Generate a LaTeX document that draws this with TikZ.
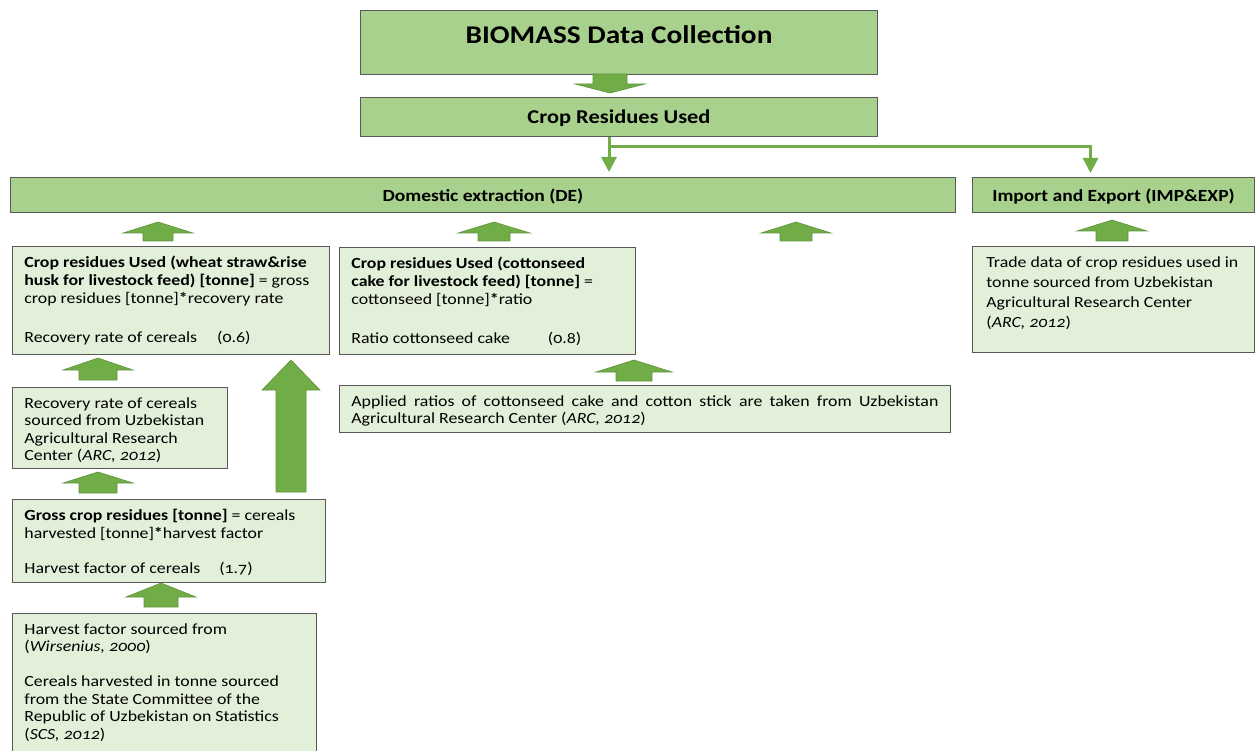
\documentclass[tikz,border=0pt]{standalone}
\usepackage{fontspec}
\setmainfont{Carlito}[FakeStretch=1.15,Numbers=OldStyle]
\usetikzlibrary{arrows.meta}

\definecolor{hdrfill}{HTML}{A9D18E}
\definecolor{boxfill}{HTML}{E2F0D9}
\definecolor{arrowgreen}{HTML}{70AD47}
\definecolor{boxline}{HTML}{595959}

% block arrow: centre x, tail y, head base y, tip y, half head, half shaft
\newcommand{\fatarrow}[6]{%
  \filldraw[fatarr] ({#1-#6},#2) -- ({#1-#6},#3) -- ({#1-#5},#3) -- (#1,#4)
    -- ({#1+#5},#3) -- ({#1+#6},#3) -- ({#1+#6},#2) -- cycle;}

\begin{document}
\begin{tikzpicture}[x=1pt,y=-1pt,
  hdr/.style={draw=boxline, line width=1pt, fill=hdrfill, anchor=north west, inner sep=0pt},
  infobox/.style={draw=boxline, line width=0.8pt, fill=boxfill, anchor=north west,
    inner xsep=12pt, inner ysep=10pt, font=\fontsize{15.5}{17.5}\selectfont},
  conn/.style={draw=arrowgreen, line width=3pt, -{Triangle[width=15pt,length=15pt]}},
  fatarr/.style={fill=arrowgreen, draw=arrowgreen!85!black, line width=0.6pt}]
  \useasboundingbox (0,0) rectangle (1255,751);

  % Header boxes
  \node[hdr, minimum width=517pt, text height=25pt, text depth=23pt, inner ysep=8pt,
    font=\fontsize{25.5}{30}\selectfont\bfseries] (title) at (360,10) {BIOMASS Data Collection};
  \node[hdr, minimum width=517pt, minimum height=39pt, text height=14pt, text depth=0pt,
    font=\fontsize{19.5}{23}\selectfont\bfseries] (cru) at (360,97) {Crop Residues Used};
  \node[hdr, minimum width=945pt, minimum height=35pt, text height=13pt, text depth=0pt,
    font=\fontsize{17}{20}\selectfont\bfseries] (de) at (10,177) {Domestic extraction (DE)};
  \node[hdr, minimum width=282pt, minimum height=35pt, text height=13pt, text depth=0pt,
    font=\fontsize{17}{20}\selectfont\bfseries] (imp) at (972,177) {Import and Export (IMP\&EXP)};

  % Calculation boxes
  \node[infobox, font=\fontsize{15.5}{18}\selectfont] (wheat) at (12,246) {\parbox[t][88pt][t]{293pt}{%
    \textbf{Crop residues Used (wheat straw\&rise}\\
    \textbf{husk for livestock feed) [tonne]} = gross\\
    crop residues [tonne]\textbf{*}recovery rate\\[21pt]
    Recovery rate of cereals\hspace{20pt}(0.6)}};
  \node[infobox, font=\fontsize{15.5}{18}\selectfont] (cotton) at (339,247) {\parbox[t][87pt][t]{272pt}{%
    \textbf{Crop residues Used (cottonseed}\\
    \textbf{cake for livestock feed) [tonne]} =\\
    cottonseed [tonne]\textbf{*}ratio\\[21pt]
    Ratio cottonseed cake\hspace{38pt}(0.8)}};
  \node[infobox] (recov) at (12,387) {\parbox[t][61pt][t]{191pt}{%
    Recovery rate of cereals\\
    sourced from Uzbekistan\\
    Agricultural Research\\
    Center (\textit{ARC, 2012})}};
  \node[infobox] (gross) at (12,499) {\parbox[t][63pt][t]{289pt}{%
    \textbf{Gross crop residues [tonne]} = cereals\\
    harvested [tonne]\textbf{*}harvest factor\\[17.5pt]
    Harvest factor of cereals\hspace{19pt}(1.7)}};
  \node[infobox] (harv) at (12,613) {\parbox[t][120pt][t]{280pt}{%
    Harvest factor sourced from\\
    (\textit{Wirsenius, 2000})\\[17.5pt]
    Cereals harvested in tonne sourced\\
    from the State Committee of the\\
    Republic of Uzbekistan on Statistics\\
    (\textit{SCS, 2012})}};
  \node[infobox, font=\fontsize{15.5}{17}\selectfont] (ratios) at (339,385) {\parbox[t][27pt][t]{587pt}{%
    Applied ratios of cottonseed cake and cotton stick are taken from Uzbekistan\linebreak
    Agricultural Research Center (\textit{ARC, 2012})}};
  \node[infobox, inner xsep=14pt, font=\fontsize{15.5}{20}\selectfont] (trade) at (972,246) {\parbox[t][86pt][t]{254pt}{%
    Trade data of crop residues used in\\
    tonne sourced from Uzbekistan\\
    Agricultural Research Center\\
    (\textit{ARC, 2012})}};

  % Connectors from Crop Residues Used
  \coordinate (split) at (609,147);
  \draw[conn] (split |- cru.south) -- ([yshift=5pt]split |- de.north);
  \draw[conn] (split) -| ([xshift=-23pt,yshift=4pt]imp.north);

  % Block arrows
  \fatarrow{610}{74}{84}{93}{35}{17}
  \fatarrow{158}{241}{233}{222}{35}{15}
  \fatarrow{494}{241}{233}{222}{36}{16}
  \fatarrow{796}{241}{233}{222}{35}{16}
  \fatarrow{1112}{241}{231}{220}{35}{16}
  \fatarrow{98}{380}{370}{358}{35}{19}
  \fatarrow{98}{493}{483}{472}{35}{19}
  \fatarrow{291}{492}{390}{360}{29}{15}
  \fatarrow{161}{607}{597}{583}{35}{17}
  \fatarrow{634}{381}{372}{360}{38}{18}
\end{tikzpicture}
\end{document}
